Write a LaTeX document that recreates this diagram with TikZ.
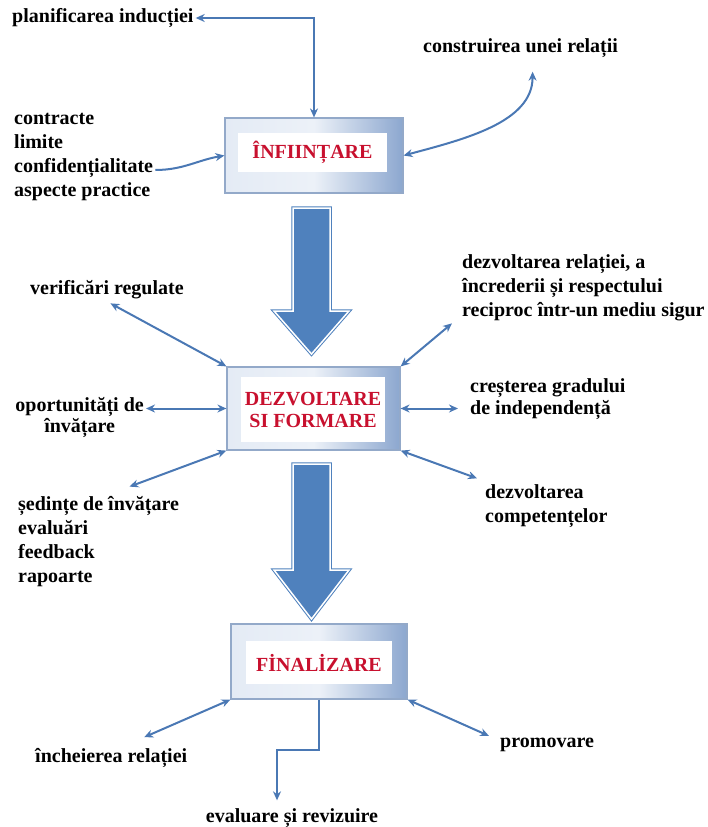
\documentclass[tikz,border=0pt]{standalone}
\usepackage{fontspec}
\setmainfont{Liberation Serif}
\usetikzlibrary{positioning, calc, arrows.meta}

\definecolor{linkblue}{HTML}{4A78B4}
\definecolor{fatblue}{HTML}{4F81BD}
\definecolor{boxlight}{HTML}{E4EBF5}
\definecolor{boxdark}{HTML}{8CA7CF}
\definecolor{boxedge}{HTML}{93A9C9}
\definecolor{stagered}{HTML}{C8102E}

\begin{document}
\begin{tikzpicture}[
        x=1pt, y=-1pt,
        every node/.style={font=\fontsize{20}{24}\selectfont\bfseries},
        frame/.style={rectangle, draw=boxedge, line width=1.2pt, left color=boxlight, right color=boxdark, middle color=boxlight!70!white, inner sep=0pt},
        stage/.style={rectangle, fill=white, text=stagered, align=center, inner sep=0pt, font=\fontsize{20}{22}\selectfont\bfseries},
        item/.style={align=left, inner sep=2pt},
        link/.style={draw=linkblue, line width=2pt, {Stealth[length=9pt,width=8pt]}-{Stealth[length=9pt,width=8pt]}},
        tolink/.style={draw=linkblue, line width=2pt, -{Stealth[length=9pt,width=8pt]}},
        fat/.style={fill=fatblue, draw=fatblue, line width=1pt, double=white, double distance=1.5pt}
    ]
    \useasboundingbox (0,0) rectangle (707,827);

    % the three stages
    \node[frame, minimum width=178pt, minimum height=75pt] (infiintare) at (314,155.5) {};
    \node[stage, minimum width=149pt, minimum height=39pt] (infiintare-txt) at (312.5,152.5) {ÎNFIINȚARE};
    \node[frame, minimum width=173pt, minimum height=83pt] (dezvoltare) at (313.5,408.5) {};
    \node[stage, minimum width=144pt, minimum height=65pt] (dezvoltare-txt) at (313,409.5) {DEZVOLTARE\\SI FORMARE};
    \node[frame, minimum width=176pt, minimum height=75pt] (finalizare) at (319,661.5) {};
    \node[stage, minimum width=146pt, minimum height=43pt] (finalizare-txt) at (319,662.5) {FİNALİZARE};

    % big arrows between stages
    \foreach \top/\neck/\tip in {208/311/354, 464/570/619}
        \draw[fat] (293,\top) -- (330,\top) -- (330,\neck) -- (349,\neck) -- (311.5,\tip) -- (274,\neck) -- (293,\neck) -- cycle;

    % texts
    \node[item, anchor=west] (planificare) at (10,18) {planificarea inducției};
    \node[item, anchor=west] (construire) at (421,48) {construirea unei relații};
    \node[item, anchor=west] (contracte) at (12,157) {contracte\\limite\\confidențialitate\\aspecte practice};
    \node[item, anchor=west] (verificari) at (28,290) {verificări regulate};
    \node[item, anchor=west] (dezrelatie) at (460,288) {dezvoltarea relației, a\\încrederii și respectului\\reciproc într-un mediu sigur};
    \node[item, align=center, anchor=east] (oportunitati) at (146,418) {oportunități de\\[-3pt]învățare};
    \node[item, anchor=west] (crestere) at (468,399) {creșterea gradului\\[-2pt]de independență};
    \node[item, anchor=west] (sedinte) at (16,542) {ședințe de învățare\\evaluări\\feedback\\rapoarte};
    \node[item, anchor=west] (competente) at (483,506) {dezvoltarea\\competențelor};
    \node[item, anchor=west] (incheiere) at (33,758) {încheierea relației};
    \node[item, anchor=west] (promovare) at (498,745) {promovare};
    \node[item] (evaluare) at (292,818) {evaluare și revizuire};

    % connectors
    \draw[link] (planificare.east) -| (infiintare.north);
    \draw[link, shorten <=12pt] ([xshift=12pt]construire.south) to[out=-90, in=15] (infiintare.east);
    \draw[tolink] ([yshift=-13pt]contracte.east) to[out=0, in=190] (infiintare.west);

    \draw[link, shorten <=4pt] (verificari.south) -- (dezvoltare.north west);
    \draw[link] ([xshift=-8pt]dezrelatie.south west) -- (dezvoltare.north east);
    \draw[link] (dezvoltare.west) -- (dezvoltare.west -| oportunitati.east);
    \draw[link, shorten >=10pt] (dezvoltare.east) -- (dezvoltare.east -| crestere.west);
    \draw[link] ([xshift=31pt,yshift=8pt]sedinte.north) -- (dezvoltare.south west);
    \draw[link] (dezvoltare.south east) -- ([xshift=-6pt,yshift=4pt]competente.north west);

    \draw[link] (finalizare.south west) -- ([xshift=33pt,yshift=9pt]incheiere.north);
    \draw[link] (finalizare.south east) -- ([xshift=-9pt]promovare.north west);
    \draw[tolink, shorten >=6pt] (finalizare.south) -- ++(0,50) -| ([xshift=-15pt]evaluare.north);
\end{tikzpicture}
\end{document}
